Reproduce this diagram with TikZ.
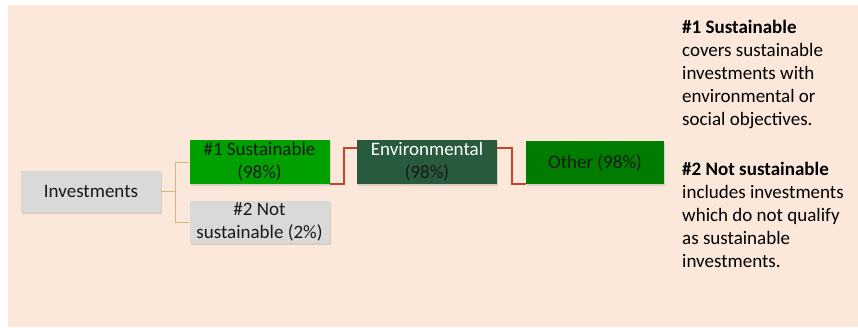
\documentclass[tikz,border=0pt]{standalone}
\usepackage{fontspec}
\setmainfont{Carlito}
\usetikzlibrary{shadows}

\definecolor{peach}{HTML}{FBE8DA}
\definecolor{boxgray}{HTML}{D9D9D9}
\definecolor{susgreen}{HTML}{00A000}
\definecolor{othgreen}{HTML}{007D00}
\definecolor{envgreen}{HTML}{285A3D}
\definecolor{tanline}{HTML}{D6B778}
\definecolor{redline}{HTML}{C8432A}

\tikzset{
	catbox/.style = {minimum width=140pt, minimum height=43pt, inner sep=0pt, align=center,
		font=\fontsize{19}{23}\selectfont, text=black!90,
		drop shadow={opacity=0.25, shadow xshift=1pt, shadow yshift=-2pt}},
	forkline/.style = {draw=tanline, line width=0.8pt},
	chainline/.style = {draw=redline, line width=1.6pt},
	notetext/.style = {anchor=base west, inner sep=0pt, align=left, font=\fontsize{19}{23}\selectfont}
}

\begin{document}
\begin{tikzpicture}[x=1pt, y=-1pt]
			\useasboundingbox (0,0) rectangle (858,327);
			\fill[peach] (8,5) rectangle (858,327);
			\node[catbox, fill=boxgray, minimum height=41pt] (inv) at (91,191) {Investments};
			\node[catbox, fill=susgreen, minimum height=44pt] (sus) at (259.5,162) {\#1 Sustainable\\(98\%)};
			\node[catbox, fill=boxgray, minimum height=42pt] (nsus) at (259.5,222) {\#2 Not\\sustainable (2\%)};
			\node[catbox, fill=envgreen, minimum height=44pt] (env) at (427,162) {{\color{white}Environmental}\\(98\%)};
			\node[catbox, fill=othgreen, minimum width=138pt] (oth) at (595,162.5) {Other (98\%)};
			\draw[forkline] (inv.east) -- ++(14,0) coordinate (fork);
			\draw[forkline] (fork) |- (sus.west);
			\draw[forkline] (fork) |- (nsus.west);
			\draw[chainline] (sus.south east) -- ++(14,0) |- ([yshift=-8pt]env.north west);
			\draw[chainline] ([yshift=-8pt]env.north east) -- ++(15,0) |- (oth.south west);
			\node[notetext] (noteone) at (682,125) {\textbf{\#1 Sustainable}\\covers sustainable\\investments with\\environmental or\\social objectives.};
			\node[notetext] (notetwo) at (682,267) {\textbf{\#2 Not sustainable}\\includes investments\\which do not qualify\\as sustainable\\investments.};
		\end{tikzpicture}
\end{document}
